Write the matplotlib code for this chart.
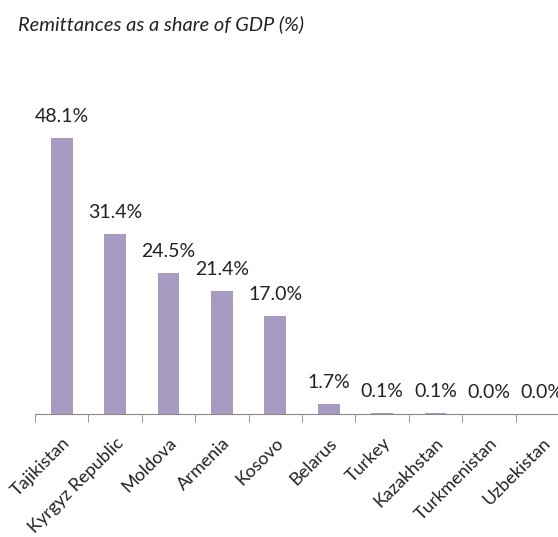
import matplotlib.pyplot as plt
import numpy as np

countries = ['Tajikistan', 'Kyrgyz Republic', 'Moldova', 'Armenia', 'Kosovo',
             'Belarus', 'Turkey', 'Kazakhstan', 'Turkmenistan', 'Uzbekistan']
share = [48.1, 31.4, 24.5, 21.4, 17.0, 1.7, 0.1, 0.1, 0.0, 0.0]

plt.rcParams['font.family'] = ['Lato', 'DejaVu Sans']

fig = plt.figure(figsize=(5.58, 5.37), dpi=100)
# axis runs past the right edge, as in the original
ax = fig.add_axes([0.0627, 0.229, 0.957, 0.641])

x = np.arange(len(countries))
ax.bar(x, share, width=0.41, color='#a89bc2')

for xi, v in zip(x, share):
    ax.annotate('%.1f%%' % v, (xi, v), xytext=(0, 15.5), textcoords='offset points',
                ha='center', va='center', fontsize=14, color='#222222',
                annotation_clip=False)

ax.set_xlim(-0.5, len(countries) - 0.5)
ax.set_ylim(0, 60)
ax.set_yticks([])
for s in ['top', 'right', 'left']:
    ax.spines[s].set_visible(False)
ax.spines['bottom'].set_color('#888888')

ax.set_xticks(x)
ax.set_xticklabels(countries, rotation=45, ha='right', rotation_mode='anchor',
                   fontsize=13, color='#222222')
ax.tick_params(axis='x', which='major', length=0, pad=15)
ax.set_xticks(np.arange(-0.5, len(countries), 1.0), minor=True)
ax.tick_params(axis='x', which='minor', length=6, color='#888888')

fig.text(0.032, 0.955, 'Remittances as a share of GDP (%)', fontsize=14.4,
         style='italic', color='#222222', va='center')

plt.savefig('out.png')
